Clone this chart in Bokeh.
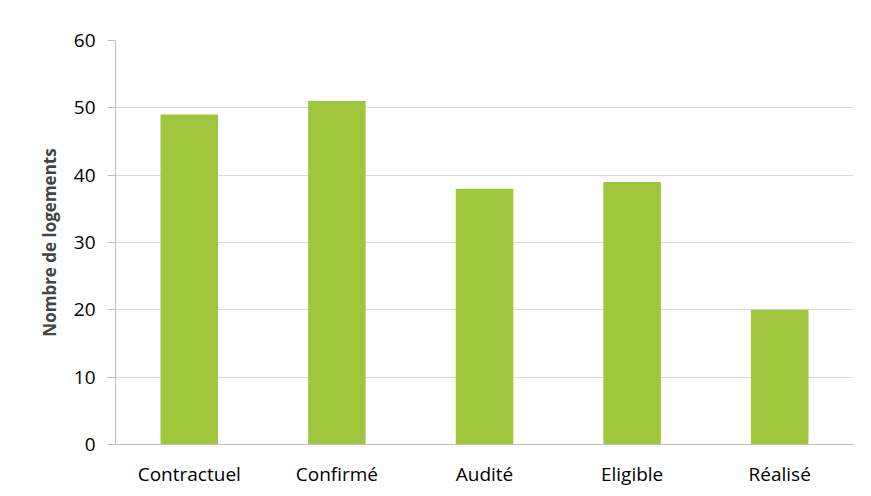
from bokeh.plotting import figure
from bokeh.embed import file_html
from bokeh.resources import INLINE
from bokeh.models import ColumnDataSource, FixedTicker, Range1d

categories = ["Contractuel", "Confirmé", "Audité", "Eligible", "Réalisé"]
values = [49, 51, 38, 39, 20]
y_ticks = [0, 10, 20, 30, 40, 50, 60]

src = ColumnDataSource(dict(cat=categories, val=values))

p = figure(x_range=categories, y_range=Range1d(0, 60),
           frame_width=738, frame_height=404,
           min_border_left=115, min_border_right=2, min_border_top=40, min_border_bottom=36,
           output_backend="svg", toolbar_location=None)
p.vbar(x="cat", top="val", width=0.39, source=src, fill_color="#a0c63d", line_color=None)

p.outline_line_color = None
p.xgrid.grid_line_color = None
p.ygrid.grid_line_color = "#d9d9d9"
p.ygrid.grid_line_width = 1
p.yaxis.ticker = FixedTicker(ticks=y_ticks)
p.yaxis.axis_label = "Nombre de logements"
p.yaxis.axis_label_text_font = "Open Sans"
p.yaxis.axis_label_text_font_style = "bold"
p.yaxis.axis_label_text_font_size = "17px"
p.yaxis.axis_label_standoff = 10
for ax in (p.xaxis, p.yaxis):
    ax.axis_line_color = "#bfbfbf"
    ax.major_tick_line_color = "#bfbfbf"
    ax.minor_tick_line_color = None
    ax.major_label_text_font = "Open Sans"
    ax.major_label_text_font_size = "19px"
    ax.major_label_text_color = "#000000"
p.yaxis.major_tick_in = 0
p.yaxis.major_tick_out = 8
p.yaxis.major_label_standoff = 12
p.xaxis.major_tick_line_color = None
p.xaxis.major_label_standoff = 10

open("out.html", "w").write(file_html(p, INLINE))
